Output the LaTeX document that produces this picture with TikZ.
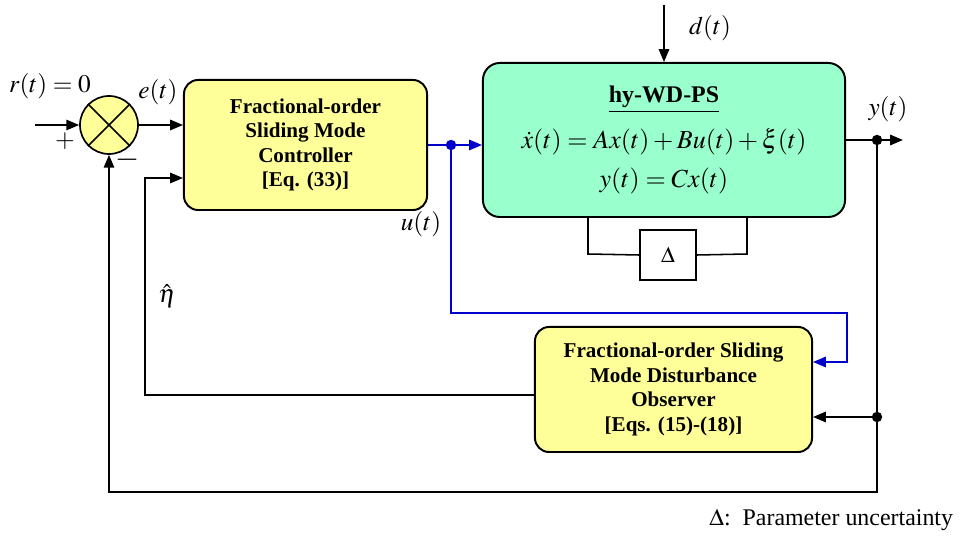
\documentclass[tikz,border=0pt]{standalone}
\usepackage{mathptmx}
\usepackage{fontspec}
\setmainfont{Liberation Serif}
\usepackage{tikz}
\usetikzlibrary{arrows.meta,positioning,calc}
\definecolor{blockyellow}{HTML}{FFFF99}
\definecolor{plantgreen}{HTML}{99FFCC}
\definecolor{signalblue}{HTML}{0000CC}
\tikzset{
  ctrlblock/.style={
    draw=black,
    fill=blockyellow,
    rounded corners=10pt,
    line width=1.4pt,
    align=center,
    inner sep=0pt,
    font=\fontsize{15}{17.5}\selectfont\bfseries
  },
  plantblock/.style={
    ctrlblock,
    fill=plantgreen,
    rounded corners=12pt,
    font=\fontsize{18.5}{27.6}\selectfont
  },
  deltablock/.style={
    draw=black,
    fill=white,
    line width=1.2pt,
    inner sep=0pt,
    minimum width=1.4cm,
    minimum height=1.25cm,
    font=\fontsize{16}{18}\selectfont
  },
  sumjunction/.style={
    circle,
    draw=black,
    fill=blockyellow,
    line width=1.2pt,
    minimum size=1.45cm,
    inner sep=0pt
  },
  signal/.style={line width=1.1pt},
  flowarrow/.style={
    -{Triangle[length=3.2mm,width=2.6mm]},
    signal
  },
  ctrlsignal/.style={
    signal,
    draw=signalblue
  },
  branchdot/.style={circle, fill, inner sep=0pt, minimum size=2.6mm},
  sigtext/.style={font=\fontsize{18}{20}\selectfont}
}
\begin{document}
\begin{tikzpicture}[x=0.025cm, y=-0.025cm]
    \useasboundingbox (0,0) rectangle (960,536);

    % blocks
    \node[sumjunction] (sum) at (109,125) {};
    \node[ctrlblock, minimum width=6.075cm, minimum height=3.25cm] (ctrl) at (305.5,145) {
        Fractional-order\\ Sliding Mode\\ Controller\\ {[Eq. (33)]}
    };
    \node[plantblock, minimum width=9.05cm, minimum height=3.85cm] (plant) at (664,140) {
        {\fontsize{17}{20}\selectfont\bfseries\underline{hy-WD-PS}}\\[5pt]
        $\dot{x}(t)=Ax(t)+Bu(t)+\xi(t)$\\
        $y(t)=Cx(t)$
    };
    \node[deltablock] (delta) at (668,255) {$\Delta$};
    \node[ctrlblock, minimum width=6.925cm, minimum height=3.125cm] (obs) at (673.5,389.5) {
        Fractional-order Sliding\\ Mode Disturbance\\ Observer\\ {[Eqs. (15)-(18)]}
    };
    \draw[line width=1.2pt] (sum.north east) -- (sum.south west);
    \draw[line width=1.2pt] (sum.north west) -- (sum.south east);

    % branch points
    \coordinate (rin) at (35,125);
    \coordinate (ubr) at (451,145);
    \coordinate (uturn1) at (451,313);
    \coordinate (uturn2) at (847,313);
    \coordinate (uturn3) at (847,362);
    \coordinate (ybr) at (877,140);
    \coordinate (yout) at (903,140);
    \coordinate (yobs) at (877,417);
    \coordinate (ybot) at (877,492);
    \coordinate (sumbot) at (109,492);
    \coordinate (etaleft) at (145,395);
    \coordinate (etaup) at (145,178);
    \coordinate (dtop) at (664,5);
    \coordinate (dleft) at (588,254);
    \coordinate (dright) at (747,254);

    % connectors
    \draw[flowarrow] (rin) -- (sum);
    \draw[flowarrow] (sum.east) -- (sum.east -| ctrl.west);
    \draw[ctrlsignal] (ctrl.east |- ubr) -- (ubr);
    \draw[ctrlsignal, flowarrow] (ubr) -- (plant.west |- ubr);
    \draw[ctrlsignal, flowarrow] (ubr) -- (uturn1) -- (uturn2) -- (uturn3) -- (obs.east |- uturn3);
    \draw[flowarrow] (dtop) -- (plant.north);
    \draw[signal] (plant.east |- ybr) -- (ybr);
    \draw[flowarrow] (ybr) -- (yout);
    \draw[flowarrow] (yobs) -- (obs.east |- yobs);
    \draw[flowarrow] (ybr) -- (ybot) -- (sumbot) -- (sum.south);
    \draw[flowarrow] (obs.west |- etaleft) -- (etaleft) -- (etaup) -- (ctrl.west |- etaup);
    \draw[signal] (plant.south -| dleft) -- (dleft) -- (delta.west);
    \draw[signal] (delta.east) -- (dright) -- (plant.south -| dright);
    \node[branchdot, signalblue] at (ubr) {};
    \node[branchdot] at (ybr) {};
    \node[branchdot] at (yobs) {};

    % labels
    \node[sigtext] (rlabel) at (50,86) {$r(t)=0$};
    \node[sigtext] (plus) at (65,141) {$+$};
    \node[sigtext, font=\fontsize{22}{22}\selectfont] (minus) at (128,160) {$-$};
    \node[sigtext] (elabel) at (158,92) {$e(t)$};
    \node[sigtext] (ulabel) at (421,224) {$u(t)$};
    \node[sigtext] (etalabel) at (167,296) {$\hat{\eta}$};
    \node[sigtext] (dlabel) at (710,28) {$d(t)$};
    \node[sigtext] (ylabel) at (888,109) {$y(t)$};
    \node[font=\fontsize{17}{19}\selectfont, anchor=east] (legend) at (958,520) {$\Delta$:\ \ Parameter uncertainty};
\end{tikzpicture}
\end{document}
